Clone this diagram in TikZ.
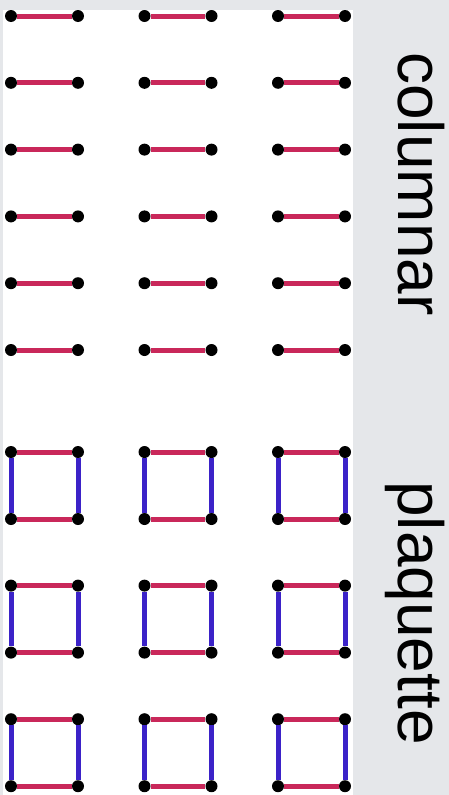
\documentclass[tikz,border=0pt]{standalone}
\usepackage{fontspec}
\setsansfont{Liberation Sans}
\usepackage{xcolor}
\usepackage{tikz}
\usetikzlibrary{arrows}
\definecolor{bondred}{RGB}{201,40,90}
\definecolor{bondblue}{RGB}{59,34,200}
\definecolor{panelgray}{RGB}{229,231,234}

\begin{document}
\begin{tikzpicture}[x=1pt,y=-1pt,
  site/.style={circle,fill=black,inner sep=0pt,minimum size=12pt},
  redbond/.style={draw=bondred,line width=5pt},
  bluebond/.style={draw=bondblue,line width=5pt},
  label/.style={rotate=-90,anchor=base,font=\sffamily\fontsize{64}{64}\selectfont}]
\fill[panelgray] (0,0) rectangle (449,795);
\fill[white] (3,10) rectangle (352.5,795);
\foreach \i in {0,...,5}
  \foreach \j in {0,1,2}{
    \node[site] (cL\i\j) at (11+133.5*\j,16+66.8*\i) {};
    \node[site] (cR\i\j) at (78+133.5*\j,16+66.8*\i) {};
    \draw[redbond] (cL\i\j) -- (cR\i\j);
  }
\foreach \i in {0,1,2}
  \foreach \j in {0,1,2}{
    \node[site] (pA\i\j) at (11+133.5*\j,452+133.6*\i) {};
    \node[site] (pB\i\j) at (78+133.5*\j,452+133.6*\i) {};
    \node[site] (pC\i\j) at (11+133.5*\j,519+133.6*\i) {};
    \node[site] (pD\i\j) at (78+133.5*\j,519+133.6*\i) {};
    \draw[redbond] (pA\i\j) -- (pB\i\j);
    \draw[redbond] (pC\i\j) -- (pD\i\j);
    \draw[bluebond] (pA\i\j) -- (pC\i\j);
    \draw[bluebond] (pB\i\j) -- (pD\i\j);
  }
\node[label] (columnar) at (398,184) {columnar};
\node[label] (plaquette) at (398,613) {plaquette};
\end{tikzpicture}
\end{document}
